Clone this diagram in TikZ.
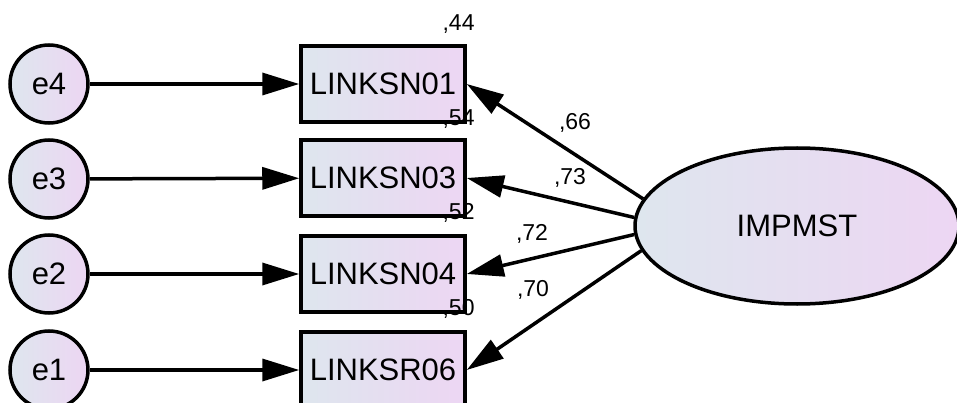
\documentclass[tikz,border=0pt]{standalone}
\usepackage{fontspec}
\setmainfont{Liberation Sans}
\usetikzlibrary{arrows.meta,shapes.geometric}
\definecolor{fillL}{RGB}{222,230,238}
\definecolor{fillR}{RGB}{237,214,243}
\tikzset{
  base/.style={line width=3.5pt, draw=black, left color=fillL, right color=fillR,
    inner sep=0pt, font=\fontsize{31}{36}\selectfont},
  errc/.style={base, circle, minimum size=78pt},
  obsbox/.style={base, rectangle, minimum width=164pt, minimum height=76pt},
  latent/.style={base, ellipse, minimum width=324pt, minimum height=156pt},
  path/.style={line width=3.5pt, -{Triangle[length=37pt,width=22pt]}},
  lbl/.style={font=\fontsize{23}{26}\selectfont, inner sep=0pt},
}
\begin{document}
\begin{tikzpicture}[x=1pt,y=-1pt]
\useasboundingbox (0,0) rectangle (957,403);
\clip (0,0) rectangle (957,403);

% error terms
\node[errc] (e4) at (49,84) {e4};
\node[errc] (e3) at (49,179) {e3};
\node[errc] (e2) at (49,274) {e2};
\node[errc] (e1) at (49,370) {e1};

% observed indicators
\node[obsbox] (n01) at (383,84) {LINKSN01};
\node[obsbox] (n03) at (383,178) {LINKSN03};
\node[obsbox] (n04) at (383,274) {LINKSN04};
\node[obsbox] (r06) at (383,370) {LINKSR06};

% latent factor
\node[latent] (f) at (797,226) {IMPMST};

% error paths
\draw[path] (e4) -- (n01);
\draw[path] (e3) -- (n03);
\draw[path] (e2) -- (n04);
\draw[path] (e1) -- (r06);

% loadings
\draw[path] (f.170.5) -- (n01.east);
\draw[path] (f.177) -- (n03.east);
\draw[path] (f.183.5) -- (n04.east);
\draw[path] (f.189.5) -- (r06.east);

% squared multiple correlations
\node[lbl, anchor=base east] (s01) at ([shift={(8pt,14pt)}]n01.north east) {,44};
\node[lbl, anchor=base east] (s03) at ([shift={(8pt,13pt)}]n03.north east) {,54};
\node[lbl, anchor=base east] (s04) at ([shift={(8pt,15pt)}]n04.north east) {,52};
\node[lbl, anchor=base east] (s06) at ([shift={(8pt,15pt)}]r06.north east) {,50};

% loading estimates
\node[lbl] (l01) at (575,123) {,66};
\node[lbl] (l03) at (570,178) {,73};
\node[lbl] (l04) at (532,234) {,72};
\node[lbl] (l06) at (533,290) {,70};
\end{tikzpicture}
\end{document}
